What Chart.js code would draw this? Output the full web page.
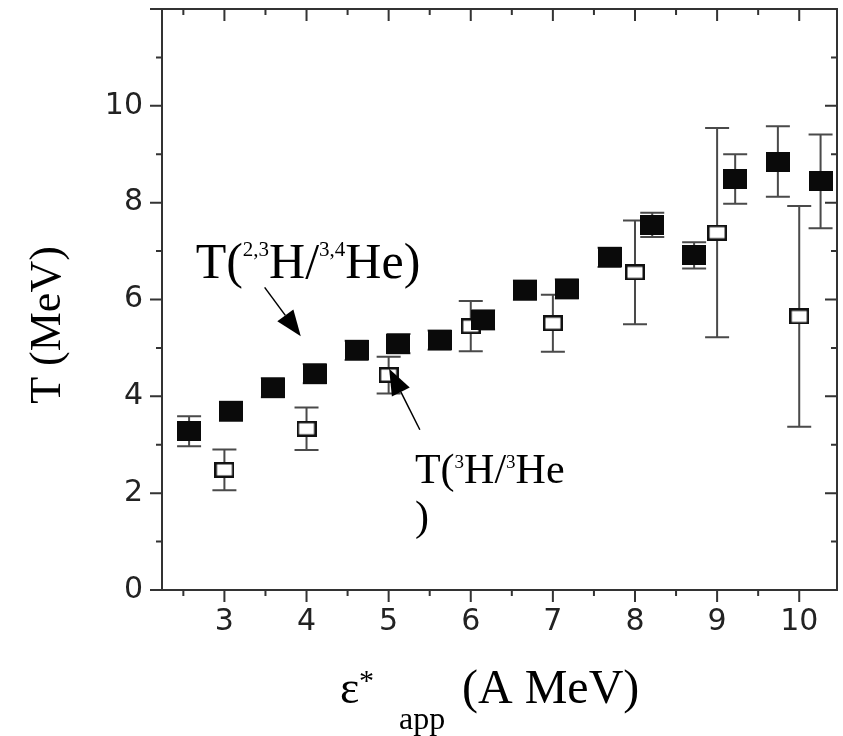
<!DOCTYPE html>
<html lang="en">
<head>
<meta charset="UTF-8">
<title>T vs apparent excitation energy</title>
<style>
  body { margin: 0; background: #fff; }
  #wrap { width: 843px; height: 736px; }
</style>
</head>
<body>
<div id="wrap"><canvas id="chart" width="843" height="736"></canvas></div>

<script src="https://cdn.jsdelivr.net/npm/chart.js@4.4.1/dist/chart.umd.min.js"></script>
<script>
// T(2,3H/3,4He) - filled squares
const filledX   = [2.57, 3.08, 3.59, 4.10, 4.61, 5.12, 5.62, 6.15, 6.66, 7.17, 7.69, 8.21, 8.72, 9.22, 9.74, 10.26];
const filledY   = [3.28, 3.69, 4.18, 4.47, 4.95, 5.09, 5.16, 5.58, 6.19, 6.22, 6.87, 7.54, 6.91, 8.49, 8.85, 8.44];
const filledErr = [0.31, 0.2, 0.2, 0.2, 0.2, 0.2, 0.2, 0.2, 0.2, 0.2, 0.2, 0.25, 0.27, 0.51, 0.73, 0.97];

// T(3H/3He) - open squares
const openX   = [3, 4, 5, 6, 7, 8, 9, 10];
const openY   = [2.48, 3.33, 4.44, 5.45, 5.51, 6.56, 7.38, 5.65];
const openErr = [0.42, 0.44, 0.38, 0.52, 0.59, 1.07, 2.16, 2.28];

// tick labels
const xTickLabels = [3, 4, 5, 6, 7, 8, 9, 10];
const yTickLabels = [0, 2, 4, 6, 8, 10];

const SERIF = '"Liberation Serif", "Times New Roman", serif';
const SANS = '"DejaVu Sans", sans-serif';

// marker images (the squares are a bit wider than tall in the original)
function makeMarker(w, h, filled) {
    const c = document.createElement('canvas');
    c.width = w;
    c.height = h;
    const g = c.getContext('2d');
    if (filled) {
        g.fillStyle = '#0a0a0a';
        g.fillRect(0, 0, w, h);
    } else {
        g.fillStyle = '#fff';
        g.fillRect(0, 0, w, h);
        g.strokeStyle = '#111';
        g.lineWidth = 2.5;
        g.strokeRect(1.25, 1.25, w - 2.5, h - 2.5);
    }
    return c;
}

// error bars, drawn under the markers
const errorBars = {
    id: 'errorBars',
    beforeDatasetsDraw(chart) {
        const { ctx, scales: { x, y } } = chart;
        chart.data.datasets.forEach(ds => {
            ctx.save();
            ctx.strokeStyle = '#4a4a4a';
            ctx.lineWidth = 2;
            ds.data.forEach((p, i) => {
                const px = x.getPixelForValue(p.x);
                const top = y.getPixelForValue(p.y + ds.err[i]);
                const bot = y.getPixelForValue(p.y - ds.err[i]);
                ctx.beginPath();
                ctx.moveTo(px, top); ctx.lineTo(px, bot);
                ctx.moveTo(px - 12, top); ctx.lineTo(px + 12, top);
                ctx.moveTo(px - 12, bot); ctx.lineTo(px + 12, bot);
                ctx.stroke();
            });
            ctx.restore();
        });
    }
};

// frame + tick marks (outside on bottom/left, inside on top/right)
const frame = {
    id: 'frame',
    afterDraw(chart) {
        const { ctx, chartArea: a, scales: { x, y } } = chart;
        ctx.save();
        ctx.strokeStyle = '#333';
        ctx.lineWidth = 2;
        ctx.strokeRect(a.left, a.top, a.right - a.left, a.bottom - a.top);
        ctx.beginPath();
        x.ticks.forEach(t => {
            const px = x.getPixelForValue(t.value);
            const len = Number.isInteger(t.value) ? 12 : 6;
            ctx.moveTo(px, a.bottom); ctx.lineTo(px, a.bottom + len);
            ctx.moveTo(px, a.top); ctx.lineTo(px, a.top + len);
        });
        y.ticks.forEach(t => {
            const py = y.getPixelForValue(t.value);
            const len = t.value % 2 === 0 ? 12 : 6;
            ctx.moveTo(a.left, py); ctx.lineTo(a.left - len, py);
            ctx.moveTo(a.right, py); ctx.lineTo(a.right - len, py);
        });
        ctx.stroke();
        ctx.restore();
    }
};

// text made of pieces with different sizes and raised offsets
function drawRich(ctx, x0, y0, parts) {
    let cx = x0;
    parts.forEach(([txt, size, dy]) => {
        ctx.font = size + 'px ' + SERIF;
        ctx.fillText(txt, cx, y0 + dy);
        cx += ctx.measureText(txt).width;
    });
}

function drawArrow(ctx, x1, y1, x2, y2) {
    const ang = Math.atan2(y2 - y1, x2 - x1);
    const hl = 26, hw = 10;
    ctx.beginPath();
    ctx.moveTo(x1, y1);
    ctx.lineTo(x2 - hl * Math.cos(ang), y2 - hl * Math.sin(ang));
    ctx.stroke();
    ctx.beginPath();
    ctx.moveTo(x2, y2);
    ctx.lineTo(x2 - hl * Math.cos(ang) + hw * Math.sin(ang), y2 - hl * Math.sin(ang) - hw * Math.cos(ang));
    ctx.lineTo(x2 - hl * Math.cos(ang) - hw * Math.sin(ang), y2 - hl * Math.sin(ang) + hw * Math.cos(ang));
    ctx.closePath();
    ctx.fill();
}

// labels, arrows and axis titles
const annotations = {
    id: 'annotations',
    afterDraw(chart) {
        const { ctx, scales: { x, y } } = chart;
        ctx.save();
        ctx.fillStyle = '#000';
        ctx.strokeStyle = '#000';
        ctx.lineWidth = 1.5;
        ctx.textAlign = 'left';
        ctx.textBaseline = 'alphabetic';

        drawRich(ctx, x.getPixelForValue(2.65), y.getPixelForValue(6.45), [
            ['T(', 50, 0], ['2,3', 21, -22], ['H/', 50, 0], ['3,4', 21, -22], ['He)', 50, 0]
        ]);
        drawArrow(ctx, x.getPixelForValue(3.49), y.getPixelForValue(6.25),
                       x.getPixelForValue(3.93), y.getPixelForValue(5.24));

        drawRich(ctx, x.getPixelForValue(5.32), y.getPixelForValue(2.215), [
            ['T(', 42, 0], ['3', 19, -15], ['H/', 42, 0], ['3', 19, -15], ['He', 42, 0]
        ]);
        drawRich(ctx, x.getPixelForValue(5.32), y.getPixelForValue(1.24), [[')', 42, 0]]);
        drawArrow(ctx, x.getPixelForValue(5.38), y.getPixelForValue(3.31),
                       x.getPixelForValue(5.006), y.getPixelForValue(4.57));

        // x title
        drawRich(ctx, 340, 703, [['\u03B5', 46, 0]]);
        drawRich(ctx, 359, 690, [['*', 30, 0]]);
        drawRich(ctx, 399, 729, [['app', 32, 0]]);
        drawRich(ctx, 462, 703, [['(A MeV)', 48, 0]]);

        // y title
        ctx.translate(48, 325);
        ctx.rotate(-Math.PI / 2);
        ctx.textAlign = 'center';
        ctx.textBaseline = 'middle';
        ctx.font = '44px ' + SERIF;
        ctx.fillText('T (MeV)', 0, 0);
        ctx.restore();
    }
};

const filledPts = filledX.map((v, i) => ({ x: v, y: filledY[i] }));
const openPts = openX.map((v, i) => ({ x: v, y: openY[i] }));

new Chart(document.getElementById('chart'), {
    type: 'scatter',
    data: {
        datasets: [
            {
                label: 'T(2,3H/3,4He)',
                data: filledPts,
                err: filledErr,
                pointStyle: makeMarker(24, 20, true),
                showLine: false
            },
            {
                label: 'T(3H/3He)',
                data: openPts,
                err: openErr,
                pointStyle: makeMarker(20, 16, false),
                showLine: false
            }
        ]
    },
    options: {
        responsive: false,
        animation: false,
        events: [],
        layout: { padding: { top: 9, right: 6, left: 0, bottom: 0 } },
        plugins: {
            legend: { display: false },
            tooltip: { enabled: false }
        },
        scales: {
            x: {
                type: 'linear',
                position: 'bottom',
                min: 2.24,
                max: 10.46,
                grid: { display: false, drawTicks: false },
                border: { display: false },
                ticks: {
                    stepSize: 0.5,
                    includeBounds: false,
                    autoSkip: false,
                    maxRotation: 0,
                    padding: 14,
                    color: '#222',
                    font: { family: SANS, size: 30 },
                    callback: v => xTickLabels.includes(v) ? String(v) : ''
                },
                afterFit: s => { s.height = 146; s.paddingLeft = 0; s.paddingRight = 0; }
            },
            y: {
                type: 'linear',
                min: 0,
                max: 12,
                grid: { display: false, drawTicks: false },
                border: { display: false },
                ticks: {
                    stepSize: 1,
                    includeBounds: false,
                    autoSkip: false,
                    padding: 19,
                    color: '#222',
                    font: { family: SANS, size: 30 },
                    callback: v => yTickLabels.includes(v) ? String(v) : ''
                },
                afterFit: s => { s.width = 162; s.paddingTop = 0; s.paddingBottom = 0; }
            }
        }
    },
    plugins: [errorBars, frame, annotations]
});
</script>
</body>
</html>
